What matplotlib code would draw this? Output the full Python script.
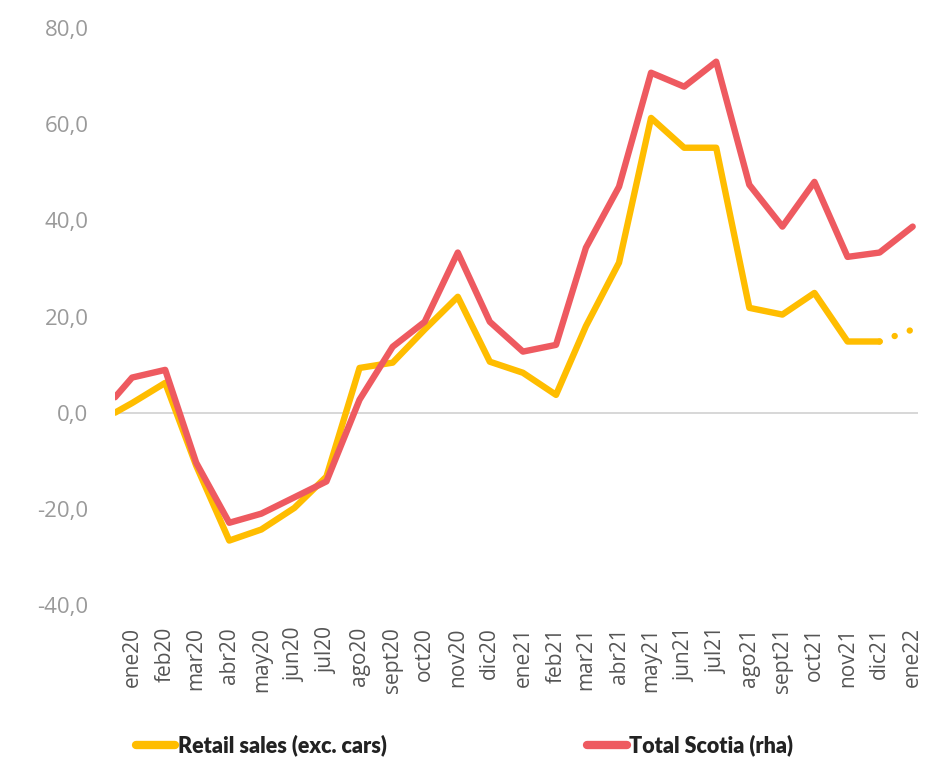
import numpy as np
import pandas as pd
import matplotlib
matplotlib.use("Agg")
import matplotlib.pyplot as plt
from matplotlib.ticker import FuncFormatter

# Month labels on the x axis
months = ['ene20', 'feb20', 'mar20', 'abr20', 'may20', 'jun20', 'jul20',
          'ago20', 'sept20', 'oct20', 'nov20', 'dic20', 'ene21', 'feb21',
          'mar21', 'abr21', 'may21', 'jun21', 'jul21', 'ago21', 'sept21',
          'oct21', 'nov21', 'dic21', 'ene22']

# first observation sits half a month before ene20
first_date = '2019-12-16'

# Retail sales (exc. cars), first value + one per month (last one is the dotted estimate)
retail = [0.0, 2.0, 6.2, -11.0, -26.6, -24.3, -19.8, -13.3, 9.3, 10.4, 17.3,
          24.1, 10.6, 8.3, 3.7, 18.0, 31.2, 61.3, 55.1, 55.1, 21.8, 20.4,
          24.9, 14.8, 14.8, 17.3]

# Total Scotia (rha)
scotia = [3.2, 7.3, 8.9, -10.4, -22.9, -21.0, -17.6, -14.3, 2.7, 13.7, 18.9,
          33.3, 18.9, 12.7, 14.1, 34.3, 47.0, 70.7, 67.8, 73.0, 47.4, 38.7,
          48.0, 32.4, 33.3, 38.7]

yellow = '#FFBD00'
red = '#EE5A60'

month_dates = pd.date_range('2020-01-01', periods=len(months), freq='MS')
dates = pd.DatetimeIndex([pd.Timestamp(first_date)]).append(month_dates)

fig = plt.figure(figsize=(9.32, 7.59), dpi=100)
ax = fig.add_axes([0.1234, 0.2029, 0.8616, 0.7602])

ax.axhline(0, color='#D4D4D4', lw=1.3, zorder=1)

# Retail: solid up to dic21, dotted for the last step
ax.plot(dates[:-1], retail[:-1], color=yellow, lw=4.6,
        solid_capstyle='round', solid_joinstyle='round', zorder=2)
ax.plot(dates[-2:], retail[-2:], color=yellow, lw=4.6,
        linestyle=(0, (0.01, 2.5)), dash_capstyle='round', zorder=2)
ax.plot(dates, scotia, color=red, lw=4.6,
        solid_capstyle='round', solid_joinstyle='round', zorder=3)

ax.set_xlim(pd.Timestamp(first_date), pd.Timestamp('2022-01-06'))
ax.set_ylim(-40, 80)
ax.set_yticks(np.arange(-40, 81, 20))
ax.yaxis.set_major_formatter(FuncFormatter(lambda v, p: f'{v:.1f}'.replace('.', ',')))

ax.set_xticks(month_dates)
ax.set_xticklabels(months, rotation=90, ha='center', va='top')

for s in ax.spines.values():
    s.set_visible(False)

ax.tick_params(axis='y', length=0, pad=19, labelsize=16, labelcolor='#9A9A9A')
ax.tick_params(axis='x', length=0, pad=16, labelsize=15, labelcolor='#555555')
for lab in ax.get_xticklabels() + ax.get_yticklabels():
    lab.set_family('Open Sans')

h1, = ax.plot([], [], color=yellow, lw=6, solid_capstyle='round')
h2, = ax.plot([], [], color=red, lw=6, solid_capstyle='round')
fig.legend([h1, h2], ['Retail sales (exc. cars)', 'Total Scotia (rha)'],
           loc='center', bbox_to_anchor=(0.498, 0.018), ncol=2, frameon=False,
           handlelength=1.85, handletextpad=0.1, columnspacing=9.3,
           prop={'family': 'Lato', 'weight': 'heavy', 'size': 15.5})
for t in fig.legends[0].get_texts():
    t.set_color('#222222')

fig.savefig('out.png', dpi=100)
